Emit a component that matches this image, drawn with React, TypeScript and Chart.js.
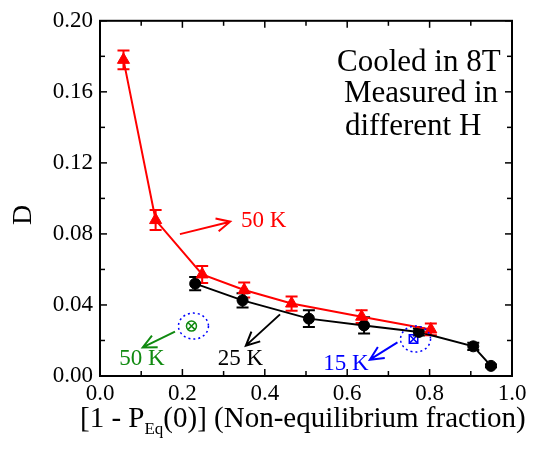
import React, { useEffect, useRef } from "react";
import { Chart, registerables } from "chart.js";

Chart.register(...registerables);

// ---- Data ----
const redX = [0.057, 0.135, 0.248, 0.35, 0.465, 0.635, 0.803];
const redY = [0.178, 0.0878, 0.0572, 0.0484, 0.0408, 0.0334, 0.0262];
const redErr = [0.0053, 0.0056, 0.0048, 0.0042, 0.004, 0.0036, 0.0033];

const blackX = [0.231, 0.346, 0.507, 0.641, 0.774, 0.906, 0.949];
const blackY = [0.052, 0.0426, 0.0323, 0.0285, 0.0248, 0.0167, 0.0057];
const blackErr = [0.0037, 0.004, 0.0047, 0.0046, 0.002, 0.002, 0.0008];

const greenX = [0.222];
const greenY = [0.0281];
const blueX = [0.761];
const blueY = [0.0208];

const xMajorTicks = [0, 0.2, 0.4, 0.6, 0.8, 1.0];
const xMinorTicks = [0.1, 0.3, 0.5, 0.7, 0.9];
const yMajorTicks = [0, 0.04, 0.08, 0.12, 0.16, 0.2];
const yMinorTicks = [0.02, 0.06, 0.1, 0.14, 0.18];

const arrowColors = ["#ff0000", "#108a10", "#000000", "#0000ff"];
const arrowFromX = [0.194, 0.182, 0.437, 0.722];
const arrowFromY = [0.0799, 0.025, 0.0347, 0.0189];
const arrowToX = [0.316, 0.1036, 0.354, 0.655];
const arrowToY = [0.0869, 0.0161, 0.0171, 0.0092];
const labelText = ["50 K", "50 K", "25 K", "15 K"];
const labelX = [0.342, 0.047, 0.2855, 0.542];
const labelY = [0.0872, 0.0098, 0.0098, 0.007];

const noteLines = ["Cooled in 8T", "Measured in", "different H"];

const FONT = "'Liberation Serif', serif";

const errorBarPlugin = {
  id: "errorBars",
  beforeDatasetsDraw(chart: any) {
    const { ctx } = chart;
    const xs = chart.scales.x;
    const ys = chart.scales.y;
    const sets = [
      { X: blackX, Y: blackY, E: blackErr, c: "#000000" },
      { X: redX, Y: redY, E: redErr, c: "#ff0000" },
    ];
    ctx.save();
    ctx.lineWidth = 2;
    for (const s of sets) {
      ctx.strokeStyle = s.c;
      s.X.forEach((xv, i) => {
        const px = xs.getPixelForValue(xv);
        const p1 = ys.getPixelForValue(s.Y[i] + s.E[i]);
        const p2 = ys.getPixelForValue(s.Y[i] - s.E[i]);
        ctx.beginPath();
        ctx.moveTo(px, p1);
        ctx.lineTo(px, p2);
        ctx.moveTo(px - 6, p1);
        ctx.lineTo(px + 6, p1);
        ctx.moveTo(px - 6, p2);
        ctx.lineTo(px + 6, p2);
        ctx.stroke();
      });
    }
    ctx.restore();
  },
};

const annotationPlugin = {
  id: "annotations",
  afterDatasetsDraw(chart: any) {
    const { ctx } = chart;
    const xs = chart.scales.x;
    const ys = chart.scales.y;
    ctx.save();
    ctx.strokeStyle = "#0000ff";
    ctx.lineWidth = 1.5;
    ctx.setLineDash([2, 3]);
    [[greenX[0], greenY[0]], [blueX[0], blueY[0]]].forEach(([vx, vy]) => {
      const px = xs.getPixelForValue(vx) + 2;
      const py = ys.getPixelForValue(vy);
      ctx.beginPath();
      ctx.ellipse(px, py, 15, 13, 0, 0, Math.PI * 2);
      ctx.stroke();
    });
    ctx.setLineDash([]);
    ctx.lineWidth = 2;
    for (let i = 0; i < arrowColors.length; i++) {
      const x1 = xs.getPixelForValue(arrowFromX[i]);
      const y1 = ys.getPixelForValue(arrowFromY[i]);
      const x2 = xs.getPixelForValue(arrowToX[i]);
      const y2 = ys.getPixelForValue(arrowToY[i]);
      const ang = Math.atan2(y2 - y1, x2 - x1);
      const hl = 15;
      const ha = 0.45;
      ctx.strokeStyle = arrowColors[i];
      ctx.beginPath();
      ctx.moveTo(x1, y1);
      ctx.lineTo(x2, y2);
      ctx.moveTo(x2 - hl * Math.cos(ang - ha), y2 - hl * Math.sin(ang - ha));
      ctx.lineTo(x2, y2);
      ctx.lineTo(x2 - hl * Math.cos(ang + ha), y2 - hl * Math.sin(ang + ha));
      ctx.stroke();
      ctx.fillStyle = arrowColors[i];
      ctx.font = `23px ${FONT}`;
      ctx.textAlign = "left";
      ctx.textBaseline = "middle";
      ctx.fillText(labelText[i], xs.getPixelForValue(labelX[i]), ys.getPixelForValue(labelY[i]));
    }
    ctx.restore();
  },
};

const framePlugin = {
  id: "frame",
  afterDraw(chart: any) {
    const { ctx, chartArea } = chart;
    const { left, right, top, bottom } = chartArea;
    const xs = chart.scales.x;
    const ys = chart.scales.y;
    ctx.save();
    ctx.strokeStyle = "#000";
    ctx.lineWidth = 2;
    ctx.strokeRect(left, top, right - left, bottom - top);
    ctx.lineWidth = 1.5;
    const seg = (a: number, b: number, c: number, d: number) => {
      ctx.beginPath();
      ctx.moveTo(a, b);
      ctx.lineTo(c, d);
      ctx.stroke();
    };
    const xt = (vals: number[], L: number) =>
      vals.forEach((v) => {
        const p = xs.getPixelForValue(v);
        seg(p, bottom, p, bottom - L);
        seg(p, top, p, top + L);
      });
    const yt = (vals: number[], L: number) =>
      vals.forEach((v) => {
        const p = ys.getPixelForValue(v);
        seg(left, p, left + L, p);
        seg(right, p, right - L, p);
      });
    xt(xMajorTicks, 7);
    xt(xMinorTicks, 5);
    yt(yMajorTicks, 7);
    yt(yMinorTicks, 5);

    ctx.fillStyle = "#000";
    ctx.textBaseline = "alphabetic";
    ctx.textAlign = "left";
    let cx = 80;
    const base = 427;
    ctx.font = `29px ${FONT}`;
    const p1 = "[1 - P";
    ctx.fillText(p1, cx, base);
    cx += ctx.measureText(p1).width;
    ctx.font = `17px ${FONT}`;
    ctx.fillText("Eq", cx, base + 7);
    cx += ctx.measureText("Eq").width;
    ctx.font = `29px ${FONT}`;
    ctx.fillText("(0)] (Non-equilibrium fraction)", cx, base);

    ctx.save();
    ctx.translate(24, 215);
    ctx.rotate(-Math.PI / 2);
    ctx.font = `28px ${FONT}`;
    ctx.textAlign = "center";
    ctx.textBaseline = "middle";
    ctx.fillText("D", 0, 0);
    ctx.restore();

    ctx.font = `31px ${FONT}`;
    ctx.textAlign = "left";
    ctx.fillText(noteLines[0], left + 237, top + 50);
    ctx.fillText(noteLines[1], left + 244, top + 81);
    ctx.fillText(noteLines[2], left + 245, top + 114);
    ctx.restore();
  },
};

export default function App() {
  const ref = useRef<HTMLCanvasElement>(null);
  useEffect(() => {
    if (!ref.current) return;
    let chart: any = null;
    let cancelled = false;
    const pts = (X: number[], Y: number[]) => X.map((x, i) => ({ x, y: Y[i] }));
    const build = () => {
      if (cancelled || !ref.current) return;
      chart = new Chart(ref.current, {
        type: "scatter",
        data: {
          datasets: [
            {
              data: pts(redX, redY),
              showLine: true,
              borderColor: "#ff0000",
              backgroundColor: "#ff0000",
              borderWidth: 2,
              pointStyle: "triangle",
              pointRadius: 7,
              pointBorderWidth: 1,
            },
            {
              data: pts(blackX, blackY),
              showLine: true,
              borderColor: "#000000",
              backgroundColor: "#000000",
              borderWidth: 2,
              pointStyle: "circle",
              pointRadius: 5.5,
              pointBorderWidth: 1,
            },
            {
              data: pts(greenX, greenY),
              showLine: false,
              borderColor: "#108a10",
              backgroundColor: "rgba(0,0,0,0)",
              pointStyle: "circle",
              pointRadius: 5,
              pointBorderWidth: 1.5,
            },
            {
              data: pts(greenX, greenY),
              showLine: false,
              borderColor: "#108a10",
              pointStyle: "crossRot",
              pointRadius: 5,
              pointBorderWidth: 1.5,
            },
            {
              data: pts(blueX, blueY),
              showLine: false,
              borderColor: "#0000ff",
              backgroundColor: "rgba(0,0,0,0)",
              pointStyle: "rect",
              pointRadius: 6,
              pointBorderWidth: 1.5,
            },
            {
              data: pts(blueX, blueY),
              showLine: false,
              borderColor: "#0000ff",
              pointStyle: "crossRot",
              pointRadius: 5,
              pointBorderWidth: 1.5,
            },
          ],
        },
        options: {
          responsive: false,
          animation: false,
          devicePixelRatio: 1,
          layout: { padding: { top: 13, right: 34, left: 0, bottom: 0 } },
          plugins: { legend: { display: false }, tooltip: { enabled: false } },
          elements: { line: { tension: 0 } },
          scales: {
            x: {
              type: "linear",
              min: 0,
              max: 1,
              grid: { display: false, drawTicks: false },
              border: { display: false },
              ticks: {
                stepSize: 0.2,
                autoSkip: false,
                maxRotation: 0,
                padding: 4,
                color: "#000",
                font: { family: FONT, size: 23 },
                callback: (v: any) => Number(v).toFixed(1),
              },
              afterFit: (s: any) => {
                s.height = 82;
              },
            },
            y: {
              type: "linear",
              min: 0,
              max: 0.2,
              grid: { display: false, drawTicks: false },
              border: { display: false },
              ticks: {
                stepSize: 0.04,
                autoSkip: false,
                padding: 7,
                color: "#000",
                font: { family: FONT, size: 23 },
                callback: (v: any) => Number(v).toFixed(2),
              },
              afterFit: (s: any) => {
                s.width = 100;
              },
            },
          },
        },
        plugins: [errorBarPlugin, annotationPlugin, framePlugin],
      } as any);
    };
    const fontsApi: any = (document as any).fonts;
    if (fontsApi && fontsApi.load) {
      Promise.all([
        fontsApi.load("23px 'Liberation Serif'"),
        fontsApi.load("30px 'Liberation Serif'"),
      ])
        .catch(() => null)
        .then(build);
    } else {
      build();
    }
    return () => {
      cancelled = true;
      if (chart) chart.destroy();
    };
  }, []);
  return (
    <div style={{ position: "absolute", left: 0, top: 0, width: 546, height: 458, background: "#fff" }}>
      <canvas ref={ref} width={546} height={458} style={{ display: "block" }} />
    </div>
  );
}
